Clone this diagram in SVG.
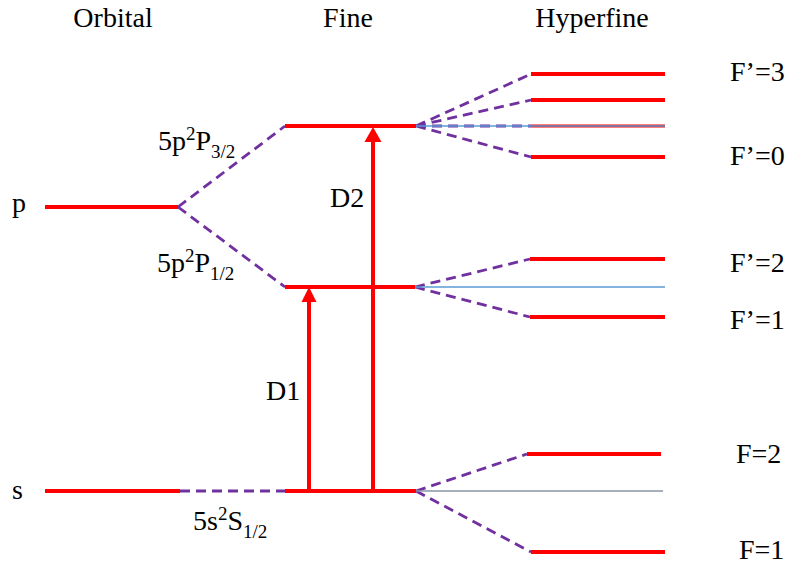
<svg xmlns="http://www.w3.org/2000/svg" width="791" height="568" viewBox="0 0 791 568">
<defs>
<style>
text{font-family:"Liberation Serif","Times New Roman",serif;fill:#000;font-size:28px}
.lvl{stroke:#ff0000;stroke-width:4;fill:none}
.dash{stroke:#7030a0;stroke-width:2.8;stroke-dasharray:10 6;fill:none}
.thin{stroke:#5b9bd5;stroke-width:1.5;fill:none}
.gray{stroke:#8a96a3;stroke-width:1.5;fill:none}
.arr{stroke:#ff0000;stroke-width:4;fill:none}
.sm{font-size:19px}
</style>
</defs>
<rect width="791" height="568" fill="#fff"/>
<g id="headers">
<text x="113" y="27" text-anchor="middle">Orbital</text>
<text x="348" y="27" text-anchor="middle">Fine</text>
<text x="592" y="27" text-anchor="middle">Hyperfine</text>
</g>
<g id="connectors">
<path class="dash" d="M178 207 L285 126 M178 207 L285 287 M180 491 L285 491"/>
<path class="dash" d="M416 126 L531 74 M416 126 L531 100 M416 126 L531 126 M416 126 L531 157"/>
<path class="dash" d="M415 287 L530 259 M415 287 L530 317"/>
<path class="dash" d="M416 491 L527 454 M416 491 L531 552"/>
<path class="thin" d="M416 126 L665 126 M415 287 L665 287"/>
<path class="gray" d="M416 491 L663 491"/>
</g>
<g id="orbital-p"><path class="lvl" d="M45 207 H178"/><text x="12" y="212">p</text></g>
<g id="orbital-s"><path class="lvl" d="M45 491 H180"/><text x="12" y="499">s</text></g>
<g id="fine-p32"><path class="lvl" d="M285 126 H416"/>
<text x="158" y="150">5p<tspan class="sm" dy="-10">2</tspan><tspan dy="10">P</tspan><tspan class="sm" dy="8">3/2</tspan></text></g>
<g id="fine-p12"><path class="lvl" d="M285 287 H415"/>
<text x="157" y="272">5p<tspan class="sm" dy="-10">2</tspan><tspan dy="10">P</tspan><tspan class="sm" dy="8">1/2</tspan></text></g>
<g id="fine-s12"><path class="lvl" d="M285 491 H416"/>
<text x="193" y="530">5s<tspan class="sm" dy="-10">2</tspan><tspan dy="10">S</tspan><tspan class="sm" dy="8">1/2</tspan></text></g>
<g id="hf-f3"><path class="lvl" d="M531 74 H665"/><text x="730" y="81">F’=3</text></g>
<g id="hf-f2p"><path class="lvl" d="M531 100 H665"/></g>
<g id="hf-f1p"><path class="lvl" d="M531 126 H665" style="stroke-width:3"/><path class="thin" d="M531 126 H665"/></g>
<g id="hf-f0"><path class="lvl" d="M531 157 H665"/><text x="730" y="165">F’=0</text></g>
<g id="hf-p12-f2"><path class="lvl" d="M530 259 H665"/><text x="730" y="272">F’=2</text></g>
<g id="hf-p12-f1"><path class="lvl" d="M530 317 H665"/><text x="730" y="329">F’=1</text></g>
<g id="hf-s-f2"><path class="lvl" d="M527 454 H661"/><text x="736" y="463">F=2</text></g>
<g id="hf-s-f1"><path class="lvl" d="M531 552 H665"/><text x="739" y="559">F=1</text></g>
<g id="d1"><path class="arr" d="M309 491 V300"/><path d="M309 287 L301.5 302 L316.5 302 Z" fill="#ff0000"/><text x="266" y="400">D1</text></g>
<g id="d2"><path class="arr" d="M373 491 V140"/><path d="M373 127 L364.5 142 L381.5 142 Z" fill="#ff0000"/><text x="330" y="207">D2</text></g>
</svg>
